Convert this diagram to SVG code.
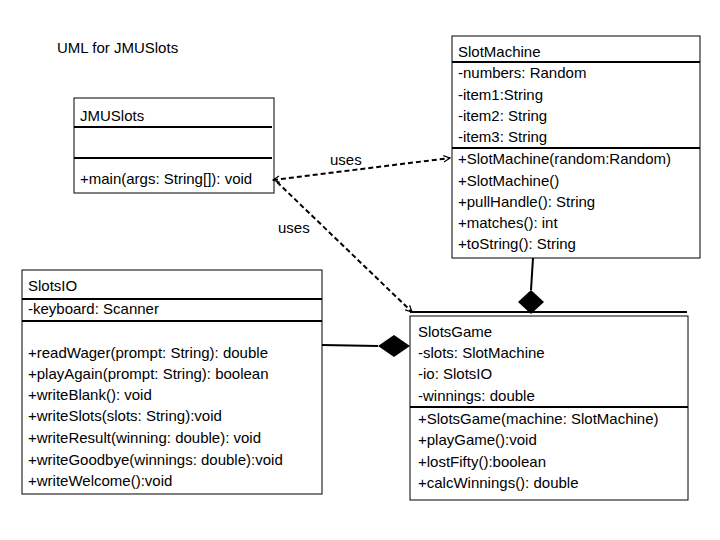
<svg xmlns="http://www.w3.org/2000/svg" width="720" height="540" viewBox="0 0 720 540">
<style>
text{font-family:"Liberation Sans",Arial,sans-serif;font-size:15px;fill:#000}
.box{fill:#fff;stroke:#000;stroke-width:1}
.sep{stroke:#000;stroke-width:2}
.dash{stroke:#000;stroke-width:2;stroke-dasharray:5,3;fill:none}
.solid{stroke:#000;stroke-width:2;fill:none}
</style>
<defs>
<marker id="open" viewBox="0 0 10 10" refX="9" refY="5" markerWidth="8" markerHeight="8" orient="auto-start-reverse" markerUnits="userSpaceOnUse">
<path d="M1,1 L9,5 L1,9" fill="none" stroke="#000" stroke-width="1.5"/>
</marker>
</defs>
<rect width="720" height="540" fill="#fff"/>
<text x="57" y="53">UML for JMUSlots</text>
<g id="JMUSlots">
<rect class="box" x="74" y="98" width="200" height="95"/>
<text x="80" y="121">JMUSlots</text>
<line class="sep" x1="74" y1="127" x2="272" y2="127"/>
<line class="sep" x1="74" y1="158" x2="272" y2="158"/>
<text x="80" y="184">+main(args: String[]): void</text>
</g>
<g id="SlotMachine">
<rect class="box" x="452" y="36" width="248" height="222"/>
<text x="458" y="57">SlotMachine</text>
<line class="sep" x1="452" y1="62" x2="700" y2="62"/>
<text x="458" y="78">-numbers: Random</text>
<text x="458" y="100">-item1:String</text>
<text x="458" y="121">-item2: String</text>
<text x="458" y="142">-item3: String</text>
<line class="sep" x1="452" y1="148" x2="700" y2="148"/>
<text x="458" y="164">+SlotMachine(random:Random)</text>
<text x="458" y="186">+SlotMachine()</text>
<text x="458" y="207">+pullHandle(): String</text>
<text x="458" y="228">+matches(): int</text>
<text x="458" y="249">+toString(): String</text>
</g>
<g id="SlotsIO">
<rect class="box" x="22" y="270" width="300" height="224"/>
<text x="28" y="291">SlotsIO</text>
<line class="sep" x1="22" y1="299" x2="322" y2="299"/>
<text x="28" y="314">-keyboard: Scanner</text>
<line class="sep" x1="22" y1="321" x2="322" y2="321"/>
<text x="28" y="358">+readWager(prompt: String): double</text>
<text x="28" y="379">+playAgain(prompt: String): boolean</text>
<text x="28" y="400">+writeBlank(): void</text>
<text x="28" y="421">+writeSlots(slots: String):void</text>
<text x="28" y="443">+writeResult(winning: double): void</text>
<text x="28" y="465">+writeGoodbye(winnings: double):void</text>
<text x="28" y="486">+writeWelcome():void</text>
</g>
<g id="SlotsGame">
<rect class="box" x="410" y="316" width="278" height="184"/>
<line class="sep" x1="410" y1="312" x2="687" y2="312"/>
<text x="418" y="337">SlotsGame</text>
<text x="418" y="358">-slots: SlotMachine</text>
<text x="418" y="379">-io: SlotsIO</text>
<text x="418" y="401">-winnings: double</text>
<line class="sep" x1="410" y1="407" x2="688" y2="407"/>
<text x="418" y="424">+SlotsGame(machine: SlotMachine)</text>
<text x="418" y="445">+playGame():void</text>
<text x="418" y="467">+lostFifty():boolean</text>
<text x="418" y="488">+calcWinnings(): double</text>
</g>
<g id="connectors">
<line class="dash" x1="273" y1="180" x2="450" y2="158" marker-start="url(#open)" marker-end="url(#open)"/>
<line class="dash" x1="277" y1="182" x2="412" y2="312" marker-end="url(#open)"/>
<text x="330" y="165">uses</text>
<text x="278" y="233">uses</text>
<line class="solid" x1="533" y1="258" x2="531" y2="290"/>
<polygon points="531,290 544,302 531,314 518,302" fill="#000"/>
<line class="solid" x1="322" y1="345" x2="378" y2="346"/>
<polygon points="378,346 394,335 410,346 394,357" fill="#000"/>
</g>
</svg>
